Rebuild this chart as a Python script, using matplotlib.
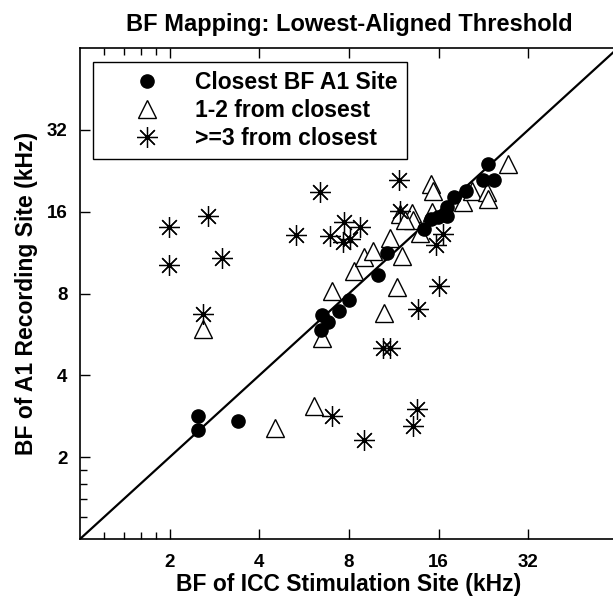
import numpy as np
from matplotlib import pyplot as plt
from matplotlib.ticker import FixedLocator, NullFormatter

plt.rcParams['font.family'] = ['Liberation Sans', 'DejaVu Sans']
plt.rcParams['font.weight'] = 'bold'

# Closest BF A1 site (filled circles)
closest_x = [2.49, 2.49, 3.39, 6.48, 6.79, 6.43, 7.39, 7.98, 9.99, 10.71, 14.25, 15.04,
             15.88, 17.0, 17.0, 17.96, 19.71, 22.47, 24.47, 23.36]
closest_y = [2.83, 2.51, 2.71, 6.64, 6.26, 5.85, 6.87, 7.60, 9.39, 11.31, 13.86, 15.08,
             15.34, 15.47, 16.7, 18.16, 19.1, 20.97, 20.97, 24.0]

# 1-2 from closest (open triangles)
near_x = [2.59, 4.51, 6.09, 6.48, 7.0, 10.46, 11.57, 8.30, 8.97, 9.61, 12.02, 10.96, 11.84,
          12.99, 13.1, 12.3, 13.82, 15.04, 15.27, 15.2, 19.26, 20.65, 23.18, 23.36, 27.26]
near_y = [5.90, 2.56, 3.08, 5.47, 8.2, 6.81, 8.42, 9.72, 10.94, 11.5, 11.03, 12.84, 15.73,
          15.86, 14.95, 14.95, 13.4, 20.27, 19.1, 16.0, 17.41, 19.1, 18.95, 17.86, 24.0]

# >=3 from closest (asterisks)
far_x = [1.99, 2.69, 1.99, 2.99, 5.30, 2.59, 6.38, 11.75, 11.84, 7.68, 8.69, 6.9, 7.62,
         8.05, 16.5, 15.63, 16.0, 13.6, 10.38, 10.96, 7.0, 8.97, 13.5, 13.09]
far_y = [14.1, 15.47, 10.22, 10.85, 13.17, 6.70, 18.95, 20.97, 16.1, 14.7, 14.1, 13.06, 12.42,
         12.74, 13.29, 12.1, 8.56, 6.99, 5.03, 5.03, 2.83, 2.31, 3.0, 2.6]

ticks = [2, 4, 8, 16, 32]
minor_ticks = [1.2, 1.4, 1.6, 1.8]
lims = [1, 64]

fig = plt.figure(figsize=(6.13, 6.01), dpi=100)
ax = fig.add_axes([80 / 613, 62 / 601, 538 / 613, 491 / 601])

ax.plot(lims, lims, color='black', linewidth=1.6, zorder=1)
h1, = ax.plot(closest_x, closest_y, 'o', color='black', markersize=9.5, linestyle='none',
              label='Closest BF A1 Site', zorder=3)
h2, = ax.plot(near_x, near_y, '^', markerfacecolor='white', markeredgecolor='black',
              markersize=13, markeredgewidth=1.0, linestyle='none',
              label='1-2 from closest', zorder=2)
h3, = ax.plot(far_x, far_y, marker=(8, 2, 0), color='black', markersize=15,
              markeredgewidth=0.9, linestyle='none', label='>=3 from closest', zorder=2)
ax.plot(far_x, far_y, 'o', color='black', markersize=2.2, linestyle='none', zorder=2)

ax.set_xscale('log', base=2)
ax.set_yscale('log', base=2)
ax.set_xlim(lims)
ax.set_ylim(lims)
for axis in (ax.xaxis, ax.yaxis):
    axis.set_major_locator(FixedLocator(ticks))
    axis.set_minor_locator(FixedLocator(minor_ticks))
    axis.set_minor_formatter(NullFormatter())
ax.set_xticklabels([str(t) for t in ticks])
ax.set_yticklabels([str(t) for t in ticks])
ax.tick_params(which='both', direction='in', top=True, right=False, labelsize=13.5)
ax.tick_params(which='major', length=7, width=1)
ax.tick_params(which='minor', length=5, width=1)
ax.tick_params(axis='x', pad=11)
ax.tick_params(axis='y', pad=9)
for s in ax.spines.values():
    s.set_linewidth(1.2)

ax.set_title('BF Mapping: Lowest-Aligned Threshold', fontsize=17, fontweight='bold', pad=12)
ax.set_xlabel('BF of ICC Stimulation Site (kHz)', fontsize=16.5, fontweight='bold', labelpad=1)
ax.set_ylabel('BF of A1 Recording Site (kHz)', fontsize=16.5, fontweight='bold', labelpad=6)

leg = ax.legend(handles=[h1, h2, h3], loc='upper left', bbox_to_anchor=(0.024, 0.971),
                borderaxespad=0, fancybox=False, edgecolor='black', framealpha=1,
                fontsize=16.5, handlelength=3.9, handletextpad=0.15, labelspacing=0.2,
                borderpad=0.4)
leg.get_frame().set_linewidth(1.0)

plt.savefig('out.png', dpi=100)
